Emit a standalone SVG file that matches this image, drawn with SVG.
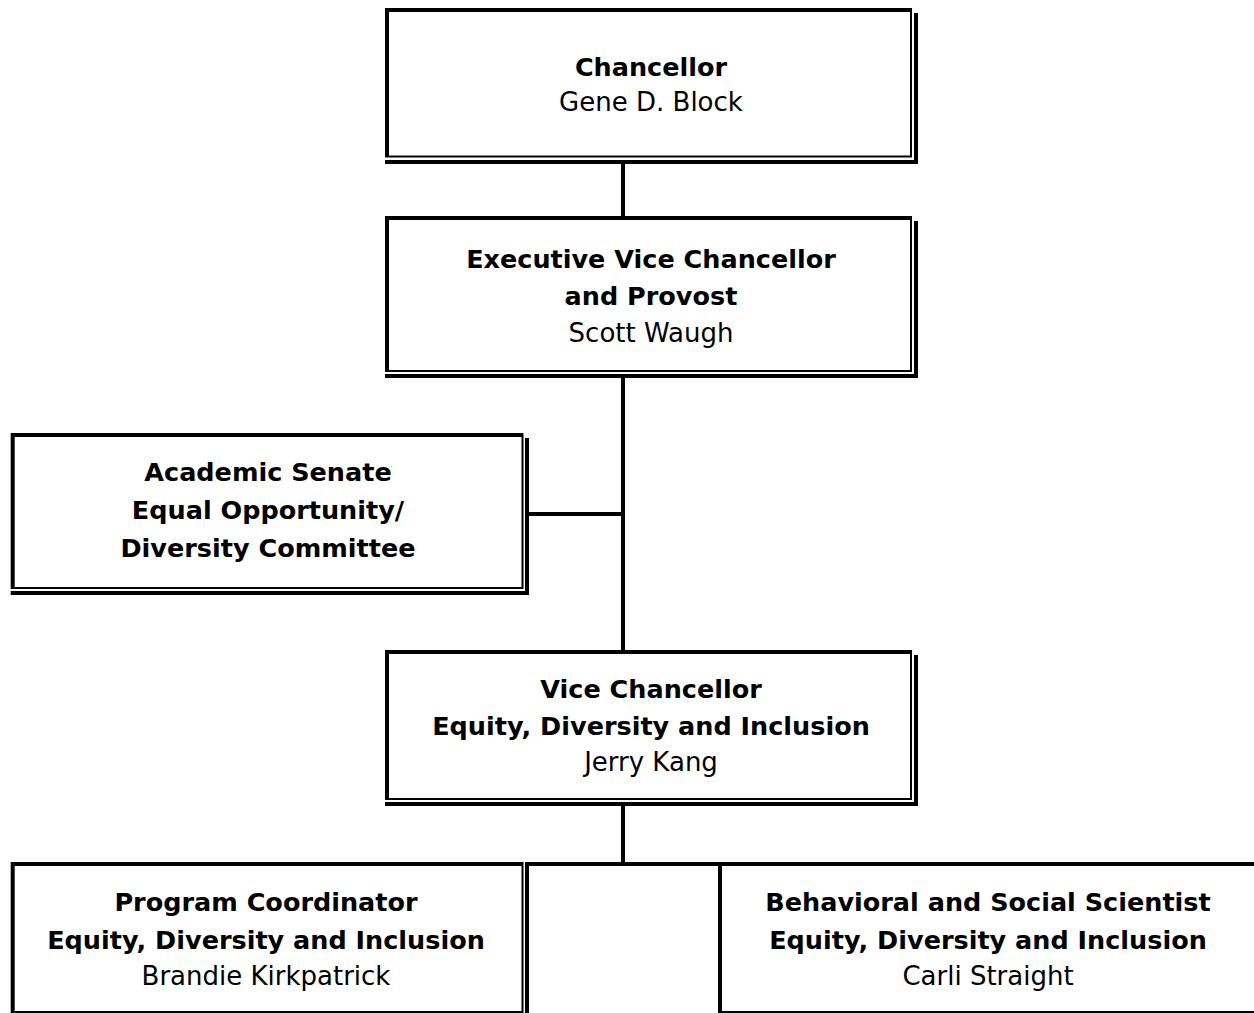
<svg xmlns="http://www.w3.org/2000/svg" width="1254" height="1013" viewBox="0 0 1254 1013">
<style>
.thick{stroke:#000;stroke-width:4;fill:none}
.thin{stroke:#000;stroke-width:2;fill:none}
.conn{stroke:#000;stroke-width:4;fill:none}
text{font-family:"DejaVu Sans","Liberation Sans",sans-serif;font-size:26px;fill:#000;text-anchor:middle}
.b{font-weight:bold;font-size:25.5px}
</style>
<rect width="1254" height="1013" fill="#fff"/>
<g id="connectors">
<line class="conn" x1="623" y1="162" x2="623" y2="218"/>
<line class="conn" x1="623" y1="376" x2="623" y2="652"/>
<line class="conn" x1="527" y1="514" x2="623" y2="514"/>
<line class="conn" x1="623" y1="804" x2="623" y2="864"/>
<line class="conn" x1="527" y1="864" x2="720" y2="864"/>
</g>
<g id="chancellor">
<path class="thick" d="M385,10 H912 M387,8 V157.5"/>
<path class="thin" d="M911,12 V156.5 H389"/>
<path class="thick" d="M916,13 V164 M385,162 H918"/>
<text class="b" x="651" y="76">Chancellor</text>
<text x="651" y="111">Gene D. Block</text>
</g>
<g id="evc">
<path class="thick" d="M385,218 H912 M387,216 V372"/>
<path class="thin" d="M911,220 V371 H389"/>
<path class="thick" d="M916,221 V378 M385,376 H918"/>
<text class="b" x="651" y="268">Executive Vice Chancellor</text>
<text class="b" x="651" y="305">and Provost</text>
<text x="651" y="342">Scott Waugh</text>
</g>
<g id="senate">
<path class="thick" d="M10.7,435 H523.5 M12.7,433 V589"/>
<path class="thin" d="M522.5,437 V588 H14.7"/>
<path class="thick" d="M527,438 V595 M10.7,593 H529"/>
<text class="b" x="268" y="481">Academic Senate</text>
<text class="b" x="268" y="519">Equal Opportunity/</text>
<text class="b" x="268" y="557">Diversity Committee</text>
</g>
<g id="vc">
<path class="thick" d="M385,652 H912 M387,650 V800"/>
<path class="thin" d="M911,654 V799 H389"/>
<path class="thick" d="M916,655 V806 M385,804 H918"/>
<text class="b" x="651" y="698">Vice Chancellor</text>
<text class="b" x="651" y="735">Equity, Diversity and Inclusion</text>
<text x="651" y="771">Jerry Kang</text>
</g>
<g id="coordinator">
<path class="thick" d="M10.7,864 H523.5 M12.7,862 V1013"/>
<path class="thin" d="M522.5,866 V1012 H14.7"/>
<path class="thick" d="M527,862 V1013"/>
<text class="b" x="266" y="911">Program Coordinator</text>
<text class="b" x="266" y="949">Equity, Diversity and Inclusion</text>
<text x="266" y="985">Brandie Kirkpatrick</text>
</g>
<g id="scientist">
<path class="thick" d="M718,864 H1254 M720,862 V1013"/>
<path class="thin" d="M722,1012 H1254"/>
<text class="b" x="988" y="911">Behavioral and Social Scientist</text>
<text class="b" x="988" y="949">Equity, Diversity and Inclusion</text>
<text x="988" y="985">Carli Straight</text>
</g>
</svg>
